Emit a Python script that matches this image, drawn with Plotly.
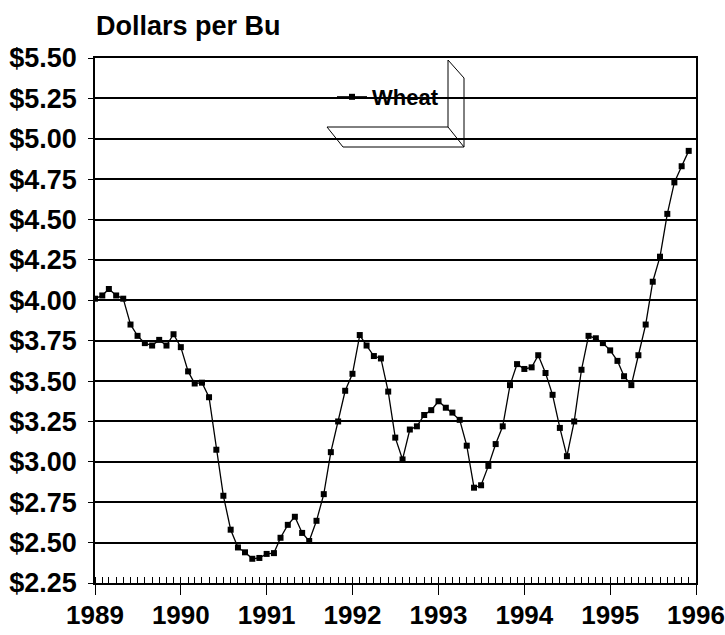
import pandas as pd
import plotly.graph_objects as go

# Monthly wheat price, dollars per bushel (Jan 1989 - Dec 1995)
wheat_1989 = [4.01, 4.03, 4.07, 4.03, 4.01, 3.85, 3.78, 3.735, 3.72, 3.755, 3.72, 3.79]
wheat_1990 = [3.71, 3.56, 3.485, 3.49, 3.40, 3.075, 2.79, 2.58, 2.47, 2.44, 2.40, 2.405]
wheat_1991 = [2.43, 2.435, 2.53, 2.61, 2.66, 2.56, 2.51, 2.635, 2.80, 3.06, 3.25, 3.44]
wheat_1992 = [3.545, 3.785, 3.72, 3.655, 3.64, 3.435, 3.15, 3.015, 3.20, 3.22, 3.29, 3.32]
wheat_1993 = [3.375, 3.335, 3.305, 3.26, 3.10, 2.84, 2.855, 2.975, 3.11, 3.22, 3.475, 3.605]
wheat_1994 = [3.575, 3.585, 3.66, 3.55, 3.415, 3.21, 3.035, 3.25, 3.57, 3.78, 3.765, 3.735]
wheat_1995 = [3.69, 3.625, 3.53, 3.475, 3.66, 3.85, 4.115, 4.27, 4.535, 4.73, 4.83, 4.925]

years = [1989, 1990, 1991, 1992, 1993, 1994, 1995]
series_by_year = [wheat_1989, wheat_1990, wheat_1991, wheat_1992, wheat_1993, wheat_1994, wheat_1995]

dates = []
values = []
for yr, vals in zip(years, series_by_year):
    for m, v in enumerate(vals):
        dates.append(pd.Timestamp(year=yr, month=m + 1, day=1))
        values.append(v)

y_ticks = [2.25, 2.50, 2.75, 3.00, 3.25, 3.50, 3.75, 4.00, 4.25, 4.50, 4.75, 5.00, 5.25, 5.50]
y_tick_text = ["$%.2f" % t for t in y_ticks]

FONT = "Liberation Sans, Arial, sans-serif"

fig = go.Figure()
fig.add_trace(go.Scatter(
    x=dates, y=values, name="Wheat", mode="lines+markers",
    line=dict(color="black", width=1.3),
    marker=dict(symbol="square", size=6, color="black"),
))

# plot area in pixels: x 95..696, y 58..583
L, R, T, B = 95, 696, 58, 583
def px(x):
    return (x - L) / (R - L)
def py(y):
    return 1 - (y - T) / (B - T)

legend_box = [
    ((448, 60), (448, 127)),
    ((448, 60), (464, 78)),
    ((464, 78), (464, 147)),
    ((327, 127), (448, 127)),
    ((327, 127), (343, 147)),
    ((343, 147), (464, 147)),
    ((448, 127), (464, 147)),
]
shapes = []
for (x0, y0), (x1, y1) in legend_box:
    shapes.append(dict(type="line", xref="paper", yref="paper",
                       x0=px(x0), y0=py(y0), x1=px(x1), y1=py(y1),
                       line=dict(color="black", width=1)))

fig.update_layout(
    width=725, height=635,
    margin=dict(l=L, r=725 - R, t=T, b=635 - B, autoexpand=False),
    paper_bgcolor="white", plot_bgcolor="white",
    font=dict(family=FONT, color="black", size=26, weight="bold"),
    title=dict(text="Dollars per Bu", x=96 / 725, xanchor="left",
               y=1 - 26 / 635, yanchor="middle",
               font=dict(family=FONT, size=27, color="black", weight="bold")),
    showlegend=True,
    legend=dict(x=px(332), xanchor="left", y=py(97), yanchor="middle",
                bgcolor="rgba(0,0,0,0)", borderwidth=0,
                font=dict(family=FONT, size=22, color="black", weight="bold"),
                itemwidth=30),
    shapes=shapes,
    xaxis=dict(
        type="date", automargin=False,
        range=["1989-01-01", "1996-01-01"],
        tickmode="linear", tick0="1989-01-01", dtick="M12",
        tickformat="%Y",
        ticks="outside", ticklen=10, tickwidth=1.2, tickcolor="black",
        minor=dict(ticks="inside", dtick="M1", ticklen=6, tickcolor="black", tickwidth=1),
        showgrid=False,
        showline=True, linecolor="black", linewidth=1.5, mirror=True,
        ticklabelstandoff=-2,
        tickfont=dict(family=FONT, size=26, color="black", weight="bold"),
    ),
    yaxis=dict(
        automargin=False,
        range=[2.25, 5.5],
        tickmode="array", tickvals=y_ticks, ticktext=y_tick_text,
        ticks="outside", ticklen=5, tickcolor="black",
        showgrid=True, gridcolor="black", gridwidth=1.6,
        showline=True, linecolor="black", linewidth=1.5, mirror=True,
        ticklabelstandoff=6,
        tickfont=dict(family=FONT, size=27, color="black", weight="bold"),
        zeroline=False,
    ),
)

fig.write_html("out.html", config={"displayModeBar": False},
               post_script="document.body.style.margin='0';")
